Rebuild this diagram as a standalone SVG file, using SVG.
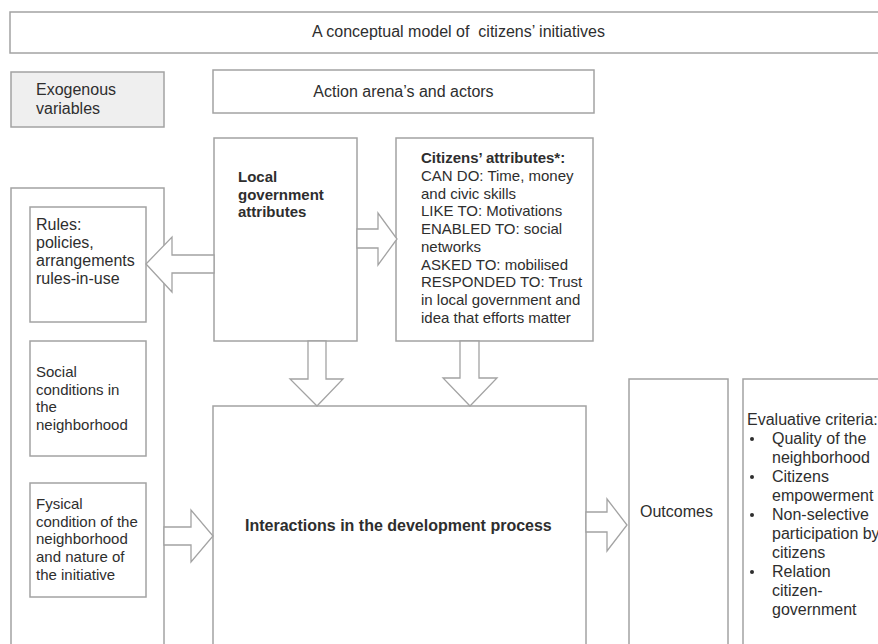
<svg xmlns="http://www.w3.org/2000/svg" width="878" height="644" viewBox="0 0 878 644">
<style>
.box{fill:#ffffff;stroke:#a3a3a3;stroke-width:1.5}
.grey{fill:#efefef}
.arr{fill:#ffffff;stroke:#a3a3a3;stroke-width:1.3;stroke-linejoin:miter}
text{font-family:"Liberation Sans",Arial,sans-serif;fill:#2e2e2e}
.t16{font-size:16px}
.t15{font-size:15px}
.b{font-weight:bold}
</style>
<rect width="878" height="644" fill="#ffffff"/>
<g id="title">
<rect class="box" x="10" y="12" width="880" height="41"/>
<text class="t16" x="312" y="37" xml:space="preserve">A conceptual model of  citizens’ initiatives</text>
</g>
<g id="exogenous">
<rect class="box grey" x="11" y="72" width="153" height="55"/>
<text class="t16" x="36" y="95">Exogenous</text>
<text class="t16" x="36" y="114">variables</text>
</g>
<g id="action-arena">
<rect class="box" x="213" y="70" width="381" height="43"/>
<text class="t16" x="403.5" y="97" text-anchor="middle">Action arena’s and actors</text>
</g>
<g id="exogenous-container">
<rect class="box" x="11" y="188" width="153" height="470"/>
</g>
<g id="rules">
<rect class="box" x="30" y="207" width="116" height="115"/>
<text class="t16" x="36" y="230">Rules:</text>
<text class="t16" x="36" y="248">policies,</text>
<text class="t16" x="36" y="266">arrangements</text>
<text class="t16" x="36" y="284">rules-in-use</text>
</g>
<g id="social">
<rect class="box" x="30" y="341" width="116" height="115"/>
<text class="t15" x="36" y="377">Social</text>
<text class="t15" x="36" y="394.5">conditions in</text>
<text class="t15" x="36" y="412">the</text>
<text class="t15" x="36" y="429.5">neighborhood</text>
</g>
<g id="fysical">
<rect class="box" x="30" y="483" width="116" height="114"/>
<text class="t15" x="36" y="509">Fysical</text>
<text class="t15" x="36" y="526.7">condition of the</text>
<text class="t15" x="36" y="544.4">neighborhood</text>
<text class="t15" x="36" y="562.1">and nature of</text>
<text class="t15" x="36" y="579.8">the initiative</text>
</g>
<g id="local-government">
<rect class="box" x="214" y="138" width="143" height="203"/>
<text class="t15 b" x="238" y="182">Local</text>
<text class="t15 b" x="238" y="199.5">government</text>
<text class="t15 b" x="238" y="217">attributes</text>
</g>
<g id="citizens">
<rect class="box" x="396" y="138" width="197" height="203"/>
<text class="t15" x="421" y="163.3"><tspan class="b">Citizens’ attributes*:</tspan></text>
<text class="t15" x="421" y="181">CAN DO: Time, money</text>
<text class="t15" x="421" y="198.7">and civic skills</text>
<text class="t15" x="421" y="216.4">LIKE TO: Motivations</text>
<text class="t15" x="421" y="234.1">ENABLED TO: social</text>
<text class="t15" x="421" y="251.8">networks</text>
<text class="t15" x="421" y="269.5">ASKED TO: mobilised</text>
<text class="t15" x="421" y="287.2">RESPONDED TO: Trust</text>
<text class="t15" x="421" y="304.9">in local government and</text>
<text class="t15" x="421" y="322.6">idea that efforts matter</text>
</g>
<g id="interactions">
<rect class="box" x="213" y="406" width="373" height="252"/>
<text class="t16 b" x="245" y="531">Interactions in the development process</text>
</g>
<g id="outcomes">
<rect class="box" x="629" y="379" width="99" height="280"/>
<text class="t16" x="640" y="517">Outcomes</text>
</g>
<g id="evaluative">
<rect class="box" x="743" y="379" width="150" height="280"/>
<text class="t16" x="747" y="425">Evaluative criteria:</text>
<circle cx="752" cy="439" r="2" fill="#2e2e2e"/>
<text class="t16" x="772" y="444">Quality of the</text>
<text class="t16" x="772" y="463">neighborhood</text>
<circle cx="752" cy="477" r="2" fill="#2e2e2e"/>
<text class="t16" x="772" y="482">Citizens</text>
<text class="t16" x="772" y="501">empowerment</text>
<circle cx="752" cy="515" r="2" fill="#2e2e2e"/>
<text class="t16" x="772" y="520">Non-selective</text>
<text class="t16" x="772" y="539">participation by</text>
<text class="t16" x="772" y="558">citizens</text>
<circle cx="752" cy="572" r="2" fill="#2e2e2e"/>
<text class="t16" x="772" y="577">Relation</text>
<text class="t16" x="772" y="596">citizen-</text>
<text class="t16" x="772" y="615">government</text>
</g>
<g id="connectors">
<polygon class="arr" points="214,255 172,255 172,237 146,264 172,292 172,273 214,273"/>
<polygon class="arr" points="357,229 378,229 378,213 397,239 378,265 378,248 357,248"/>
<polygon class="arr" points="308,341 308,379 290,379 317,406 343,379 326,379 326,341"/>
<polygon class="arr" points="460,341 460,378 443,378 470,406 497,378 479,378 479,341"/>
<polygon class="arr" points="164,527 191,527 191,510 213,536 191,562 191,545 164,545"/>
<polygon class="arr" points="586,512 607,512 607,499 627,525 607,551 607,532 586,532"/>
</g>
</svg>
